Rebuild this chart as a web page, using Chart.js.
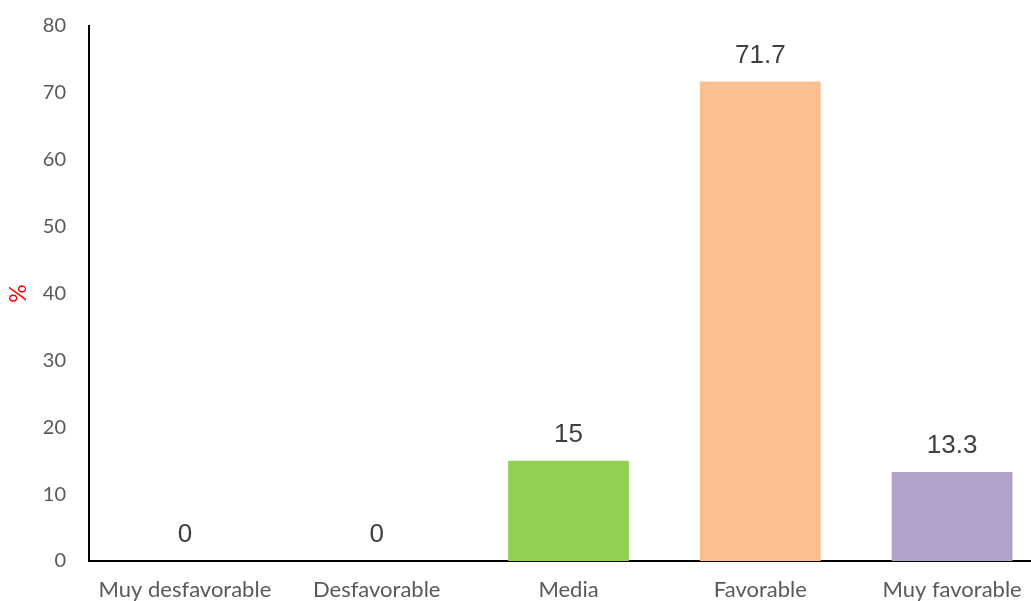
<!DOCTYPE html>
<html>
<head>
<meta charset="utf-8">
<title>Valoración</title>
<script src="https://cdn.jsdelivr.net/npm/chart.js@4.4.1/dist/chart.umd.min.js"></script>
<style>
    html, body { margin: 0; padding: 0; background: #fff; overflow: hidden; }
    #wrap { width: 1031px; height: 601px; overflow: hidden; }
    canvas { display: block; }
</style>
</head>
<body>
<div id="wrap">
    <canvas id="valoracionChart" width="1048" height="601"></canvas>
</div>
<script>
// ===== DATA =====
const categories = ['Muy desfavorable', 'Desfavorable', 'Media', 'Favorable', 'Muy favorable'];
const percentages = [0, 0, 15, 71.7, 13.3];
const barColors = ['#4F81BD', '#C0504D', '#92D050', '#FAC090', '#B3A2C7'];
const yTicks = [0, 10, 20, 30, 40, 50, 60, 70, 80];

// Value labels drawn above each bar
const valueLabels = {
    id: 'valueLabels',
    afterDatasetsDraw(chart) {
        const ctx = chart.ctx;
        const meta = chart.getDatasetMeta(0);
        ctx.save();
        ctx.font = '26px "Liberation Sans", Arial, sans-serif';
        ctx.fillStyle = '#404040';
        ctx.textAlign = 'center';
        ctx.textBaseline = 'middle';
        meta.data.forEach((bar, i) => {
            ctx.fillText(String(percentages[i]), bar.x, bar.y - 26);
        });
        ctx.restore();
    }
};

const ctx = document.getElementById('valoracionChart').getContext('2d');

new Chart(ctx, {
    type: 'bar',
    data: {
        labels: categories,
        datasets: [{
            data: percentages,
            backgroundColor: barColors,
            borderWidth: 0,
            categoryPercentage: 1,
            barPercentage: 0.63
        }]
    },
    options: {
        responsive: false,
        animation: false,
        devicePixelRatio: 1,
        layout: { padding: { top: 26, right: 0, bottom: 0, left: 0 } },
        plugins: {
            legend: { display: false },
            tooltip: { enabled: false }
        },
        scales: {
            x: {
                grid: { display: false, drawTicks: false },
                border: { display: true, color: '#000', width: 2 },
                ticks: {
                    color: '#595959',
                    font: { family: 'Lato, "Open Sans", sans-serif', size: 22 },
                    padding: 16,
                    maxRotation: 0,
                    autoSkip: false
                },
                afterFit(scale) { scale.height = 40; }
            },
            y: {
                min: 0,
                max: 80,
                afterBuildTicks(scale) {
                    scale.ticks = yTicks.map(v => ({ value: v }));
                },
                // hidden tick marks keep the labels away from the axis line
                grid: { display: false, drawTicks: true, tickLength: 23 },
                border: { display: true, color: '#000', width: 2 },
                ticks: {
                    color: '#595959',
                    font: { family: 'Lato, "Open Sans", sans-serif', size: 20 },
                    padding: 0
                },
                title: {
                    display: true,
                    text: '%',
                    color: '#FF0000',
                    font: { family: 'Lato, "Open Sans", sans-serif', size: 23 },
                    padding: { top: 5, bottom: 0 }
                },
                afterFit(scale) { scale.width = 89; }
            }
        }
    },
    plugins: [valueLabels]
});
</script>
</body>
</html>
